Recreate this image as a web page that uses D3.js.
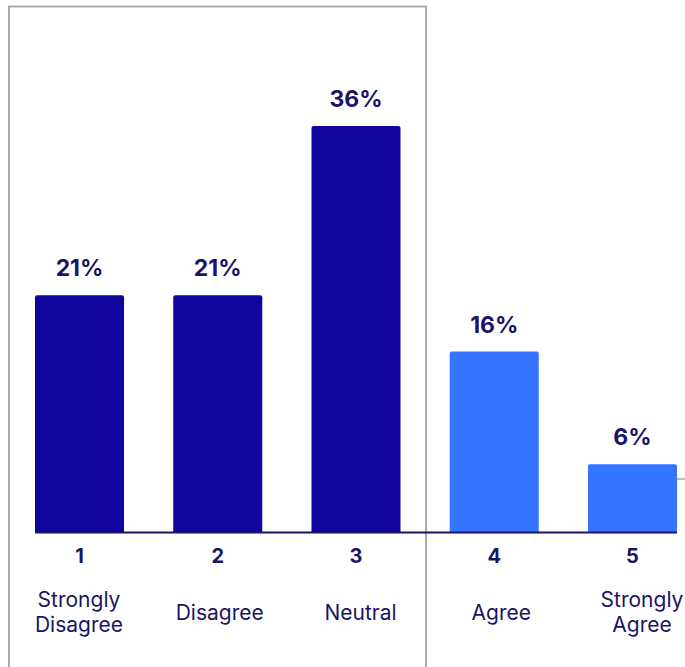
<!DOCTYPE html>
<html>
<head>
<meta charset="utf-8">
<script src="https://cdn.jsdelivr.net/npm/d3@7/dist/d3.min.js"></script>
<style>
  html, body { margin: 0; padding: 0; background: #ffffff; }
  svg { display: block; font-family: "Inter", "Lato", sans-serif; }
</style>
</head>
<body>
<svg id="chart" width="685" height="667"></svg>
<script>
// Likert-scale response shares
const scores = ["1", "2", "3", "4", "5"];
const labels = [["Strongly", "Disagree"], ["Disagree"], ["Neutral"], ["Agree"], ["Strongly", "Agree"]];
const shares = [21, 21, 36, 16, 6];
const groups = ["low", "low", "low", "high", "high"];

const svg = d3.select("#chart");
const ink = "#1b1464";
const fill = { low: "#10069f", high: "#3574ff" };

const x = d3.scaleBand().domain(scores).range([35, 677]).paddingInner(0.356).paddingOuter(0);
const y = d3.scaleLinear().domain([0, 36]).range([532, 126]);
// Category names sit on their own evenly spaced row
const xName = d3.scalePoint().domain(scores).range([79, 642]);

// Highlight frame around the first three responses
svg.append("path")
  .attr("d", `M9,667 V6.5 H426 V667`)
  .attr("fill", "none")
  .attr("stroke", "#a9a9a9")
  .attr("stroke-width", 2);

// Short grid stub on the right edge
svg.append("line")
  .attr("x1", x("5") + x.bandwidth()).attr("x2", 685)
  .attr("y1", 479).attr("y2", 479)
  .attr("stroke", "#a9a9a9").attr("stroke-width", 1.5);

// Bars with slightly rounded tops
const r = 2;
svg.selectAll("path.bar")
  .data(scores)
  .join("path")
  .attr("class", "bar")
  .attr("fill", (d, i) => fill[groups[i]])
  .attr("d", (d, i) => {
    const x0 = x(d), x1 = x0 + x.bandwidth(), y0 = y(shares[i]), yb = y(0);
    return `M${x0},${yb} V${y0 + r} Q${x0},${y0} ${x0 + r},${y0} H${x1 - r} Q${x1},${y0} ${x1},${y0 + r} V${yb} Z`;
  });

// Baseline
svg.append("line")
  .attr("x1", x("1")).attr("x2", x("5") + x.bandwidth())
  .attr("y1", y(0) + 0.5).attr("y2", y(0) + 0.5)
  .attr("stroke", ink).attr("stroke-width", 2);

// Value labels
svg.selectAll("text.value")
  .data(scores)
  .join("text")
  .attr("class", "value")
  .attr("x", d => x(d) + x.bandwidth() / 2)
  .attr("y", (d, i) => y(shares[i]) - 19)
  .attr("text-anchor", "middle")
  .attr("fill", ink)
  .attr("font-size", 23)
  .attr("font-weight", 700)
  .text((d, i) => shares[i] + "%");

// Score numbers
const xAxis = d3.axisBottom(x).tickSize(0).tickPadding(0);
const ax = svg.append("g").attr("transform", `translate(0,${y(0)})`).call(xAxis);
ax.select(".domain").remove();
ax.selectAll("text")
  .attr("y", 31)
  .attr("dy", 0)
  .attr("fill", ink)
  .attr("font-size", 20)
  .attr("font-weight", 700)
  .attr("font-family", "Inter, Lato, sans-serif");

// Category names
const cat = svg.selectAll("text.cat")
  .data(scores)
  .join("text")
  .attr("class", "cat")
  .attr("x", d => xName(d))
  .attr("text-anchor", "middle")
  .attr("fill", ink)
  .attr("font-size", 21)
  .attr("y", (d, i) => labels[i].length > 1 ? 607 : 620);
cat.each(function(d, i) {
  d3.select(this).selectAll("tspan")
    .data(labels[i])
    .join("tspan")
    .attr("x", xName(d))
    .attr("dy", (t, j) => j === 0 ? 0 : 25)
    .text(t => t);
});
</script>
</body>
</html>
